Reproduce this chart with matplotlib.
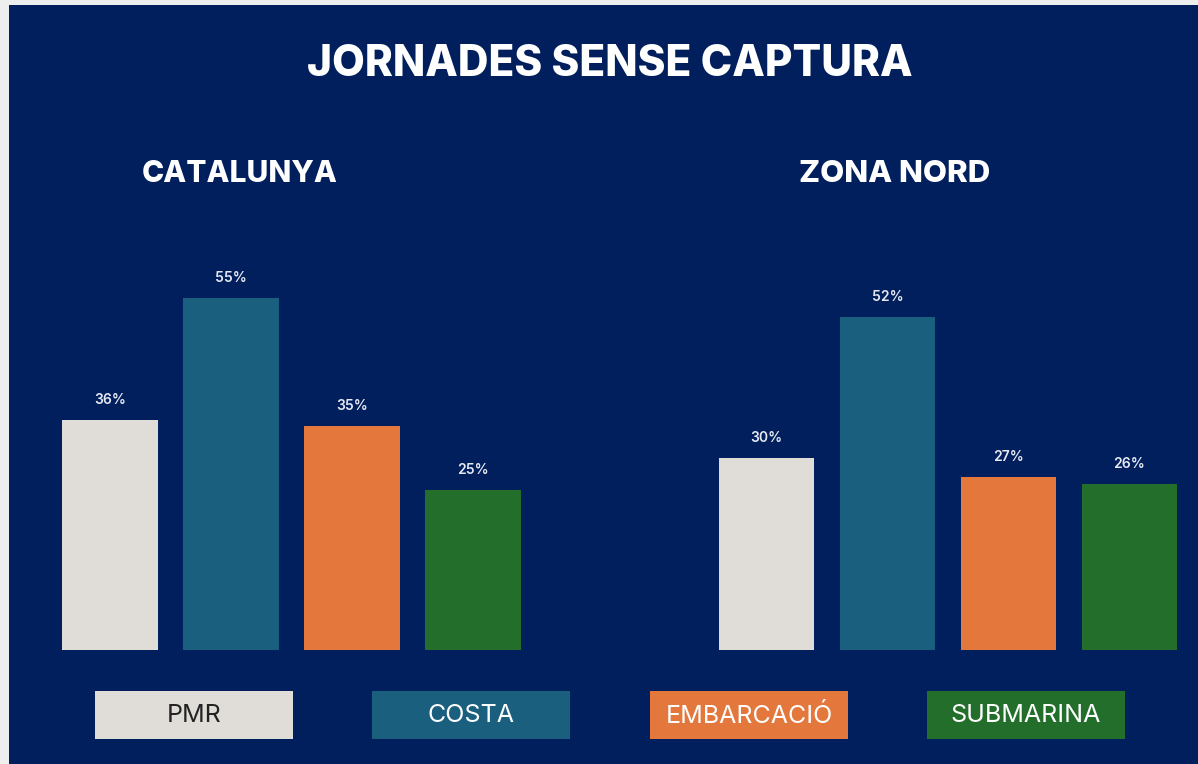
import matplotlib.pyplot as plt
from matplotlib.patches import Rectangle

# Percentatge de jornades sense captura per modalitat
categories = ["PMR", "COSTA", "EMBARCACIÓ", "SUBMARINA"]
catalunya = [36, 55, 35, 25]
zona_nord = [30, 52, 27, 26]
regions = ["CATALUNYA", "ZONA NORD"]

colors = ["#e0ddd9", "#1b5f7f", "#e4773b", "#236e2b"]
legend_text_colors = ["#222222", "white", "white", "white"]
BG = "#001f5c"

W, H = 1198, 764
fig = plt.figure(figsize=(W / 100, H / 100), dpi=100, facecolor="#eeeeee")
plt.rcParams["font.family"] = ["Inter", "DejaVu Sans"]


def fx(px):
    return px / W


def fy(py):
    # pixel from top -> figure fraction from bottom
    return 1 - py / H


# dark panel behind everything
fig.patches.append(Rectangle((fx(9), 0), 1 - fx(9), fy(5), transform=fig.transFigure,
                             facecolor=BG, edgecolor="none", zorder=-10))

fig.text(fx(610), fy(64), "JORNADES SENSE CAPTURA", ha="center", va="center",
         fontsize=30.5, fontweight="heavy", color="white")


def draw_group(left_px, values, title, title_x, title_size):
    base = 650
    top = base - 6.4 * 60
    ax = fig.add_axes([fx(left_px), fy(base), fx(484), (base - top) / H])
    ax.set_facecolor("none")
    ax.set_xlim(-0.5, 3.5)
    ax.set_ylim(0, 60)
    bars = ax.bar(range(len(values)), values, width=0.793, color=colors)
    for b, v in zip(bars, values):
        ax.text(b.get_x() + b.get_width() / 2, v + 3.1, f"{v}%", ha="center",
                va="center", fontsize=10, fontweight="semibold",
                color="#e6e9f2", clip_on=False)
    ax.axis("off")
    fig.text(fx(title_x), fy(174), title, ha="center", va="center",
             fontsize=title_size, fontweight="heavy", color="white")


draw_group(49.5, catalunya, regions[0], 240, 21.5)
draw_group(706, zona_nord, regions[1], 895, 22.5)

# llegenda
legend_x = [95, 372, 650, 927]
for x0, cat, c, tc in zip(legend_x, categories, colors, legend_text_colors):
    fig.patches.append(Rectangle((fx(x0), fy(739)), fx(198), 48 / H,
                                 transform=fig.transFigure, facecolor=c,
                                 edgecolor="none", zorder=1))
    fig.text(fx(x0 + 99), fy(716), cat, ha="center", va="center",
             fontsize=18, color=tc)

fig.savefig("out.png", dpi=100, facecolor=fig.get_facecolor())
